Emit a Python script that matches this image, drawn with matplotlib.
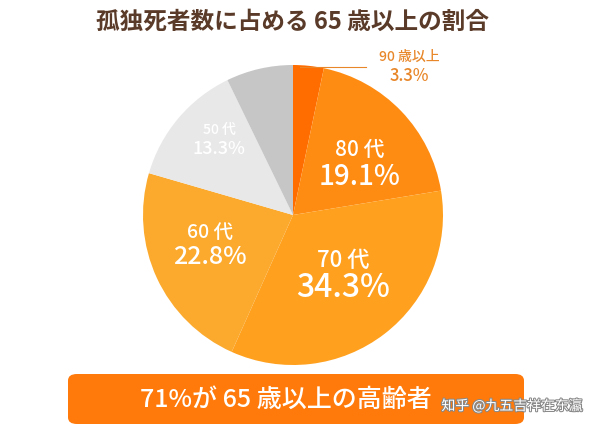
import matplotlib.pyplot as plt
import matplotlib.patheffects as pe
from matplotlib.patches import FancyBboxPatch

plt.rcParams['font.family'] = ['Noto Sans CJK JP', 'DejaVu Sans']

labels = ['90 歳以上', '80 代', '70 代', '60 代', '50 代', '']
values = [3.3, 19.1, 34.3, 22.8, 13.3, 7.2]
colors = ['#FF6C00', '#FF8C12', '#FFA01E', '#FBAA2E', '#E8E8E8', '#C6C6C6']

fig = plt.figure(figsize=(6, 4.34), dpi=100)
fig.patch.set_facecolor('white')

# pie: center (293,215) px, radius 150 px
ax = fig.add_axes([143/600, 1 - 365/434, 300/600, 300/434])
ax.pie(values, colors=colors, startangle=90, counterclock=False,
       wedgeprops=dict(linewidth=0))
ax.set_xlim(-1, 1); ax.set_ylim(-1, 1)
ax.set_aspect('auto')
ax.axis('off')

def lab(x, y, t1, t2, s1, s2, c='white'):
    fig.text(x/600, 1 - y/434, t1, ha='center', va='center', fontsize=s1, color=c, fontweight='medium')
    fig.text(x/600, 1 - (y + s1*1.5 + 4)/434, t2, ha='center', va='center', fontsize=s2, color=c, fontweight='medium')

lab(360, 150, '80 代', '19.1%', 15, 20)
lab(343, 260, '70 代', '34.3%', 16, 23)
lab(210, 232, '60 代', '22.8%', 14, 18)
lab(219, 130, '50 代', '13.3%', 10, 13)
lab(409, 57, '90 歳以上', '3.3%', 10, 12, c='#E8872A')
fig.add_artist(plt.Line2D([300/600, 366/600], [1 - 67/434, 1 - 67/434], color='#E8872A', lw=0.8))

fig.text(293/600, 1 - 22/434, '孤独死者数に占める 65 歳以上の割合', ha='center', va='center',
         fontsize=17, fontweight='bold', color='#5A3A28')

box = FancyBboxPatch((68/600, 1 - 424/434), 456/600, 50/434,
                     boxstyle='round,pad=0,rounding_size=0.015', transform=fig.transFigure,
                     facecolor='#FF7A0A', edgecolor='none')
fig.add_artist(box)
fig.text(286/600, 1 - 400/434, '71%が 65 歳以上の高齢者', ha='center', va='center',
         fontsize=18, fontweight='medium', color='white')
fig.text(512/600, 1 - 406/434, '知乎 @九五吉祥在东瀛', ha='center', va='center',
         fontsize=10, color='white',
         path_effects=[pe.withStroke(linewidth=1.5, foreground='#888888')])

fig.savefig('out.png', dpi=100)
